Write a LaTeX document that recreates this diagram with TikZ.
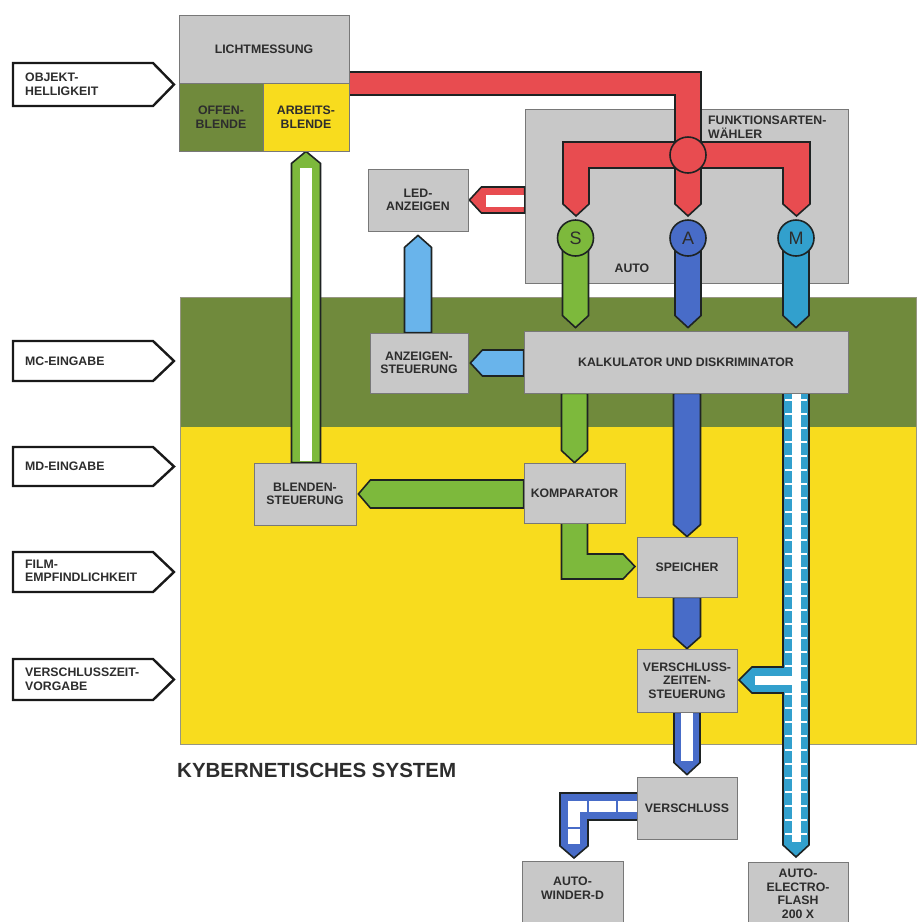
\documentclass[tikz,border=0pt]{standalone}
\usepackage{fontspec}
\setmainfont{Liberation Sans}
\usetikzlibrary{calc}
\pgfdeclarelayer{bg}
\pgfdeclarelayer{pipes}
\pgfsetlayers{bg,pipes,main}
\definecolor{boxgray}{RGB}{200,200,200}
\definecolor{boxedge}{RGB}{120,120,120}
\definecolor{txt}{RGB}{45,45,45}
\definecolor{mcgreen}{RGB}{112,138,60}
\definecolor{yel}{RGB}{248,220,30}
\definecolor{pred}{RGB}{232,76,80}
\definecolor{lgreen}{RGB}{125,185,60}
\definecolor{blueA}{RGB}{72,108,200}
\definecolor{cyanM}{RGB}{50,160,205}
\definecolor{lblue}{RGB}{105,180,235}
\definecolor{pipeedge}{RGB}{30,35,35}
\definecolor{sysedge}{RGB}{150,150,130}
\tikzset{
  lbl/.style={font=\fontsize{12.3pt}{13.5pt}\selectfont\bfseries, text=txt, align=center, inner sep=0pt},
  box/.style={lbl, draw=boxedge, line width=0.8pt, fill=boxgray},
  pipe/.style={draw=pipeedge, line width=1.6pt, line join=miter},
  inarrow/.style={draw=black!90, line width=2.4pt, fill=white},
  inlbl/.style={lbl, align=left, anchor=west},
  circ/.style={circle, draw=pipeedge, line width=1.6pt, minimum size=36pt, inner sep=0pt,
    font=\fontsize{18pt}{18pt}\selectfont, text=txt}
}
\newcommand\pipedown[4]{\draw[pipe,#1] ($(#2)+(-#4,0)$) -- ($(#3)+(-#4,-12)$) -- (#3) -- ($(#3)+(#4,-12)$) -- ($(#2)+(#4,0)$) -- cycle;}
\newcommand\pipeup[4]{\draw[pipe,#1] ($(#2)+(-#4,0)$) -- ($(#3)+(-#4,12)$) -- (#3) -- ($(#3)+(#4,12)$) -- ($(#2)+(#4,0)$) -- cycle;}
\newcommand\pipeleft[4]{\draw[pipe,#1] ($(#2)+(0,-#4)$) -- ($(#3)+(12,-#4)$) -- (#3) -- ($(#3)+(12,#4)$) -- ($(#2)+(0,#4)$) -- cycle;}
\newcommand\inarr[2]{\draw[inarrow] (13,#1) -- (153,#1) -- (174,{(#1+#2)/2}) -- (153,#2) -- (13,#2) -- cycle;}
\begin{document}
\begin{tikzpicture}[x=1pt,y=-1pt]
\useasboundingbox (0,0) rectangle (919,922);
\begin{pgfonlayer}{bg}
\fill[white] (0,0) rectangle (919,922);
\fill[mcgreen] (180,297) rectangle (916,427);
\fill[yel] (180,427) rectangle (916,744);
\draw[sysedge, line width=1pt] (180,297) rectangle (916,744);
\node[box, minimum width=323pt, minimum height=174pt] (funk) at (686.5,196) {};
\end{pgfonlayer}

% input arrows
\inarr{63}{106}
\node[inlbl] (objekt) at (25,84.5) {OBJEKT-\\HELLIGKEIT};
\inarr{341}{381}
\node[inlbl] (mc) at (25,361) {MC-EINGABE};
\inarr{447}{486}
\node[inlbl] (md) at (25,466.5) {MD-EINGABE};
\inarr{552}{592}
\node[inlbl] (film) at (25,571) {FILM-\\EMPFINDLICHKEIT};
\inarr{659}{700}
\node[inlbl] (vzv) at (25,679.5) {VERSCHLUSSZEIT-\\VORGABE};

% boxes
\node[box, minimum width=170pt, minimum height=68pt] (licht) at (264,49) {LICHTMESSUNG};
\node[box, fill=mcgreen, minimum width=84pt, minimum height=68pt] (offen) at (221,117) {OFFEN-\\BLENDE};
\node[box, fill=yel, minimum width=86pt, minimum height=68pt] (arbeits) at (306,117) {ARBEITS-\\BLENDE};
\node[lbl, align=left, anchor=west] (funkt) at (708,127) {FUNKTIONSARTEN-\\WÄHLER};
\node[lbl] (auto) at (632,268) {AUTO};
\node[box, minimum width=100pt, minimum height=62pt] (led) at (418,200) {LED-\\ANZEIGEN};
\node[box, minimum width=98pt, minimum height=60pt] (anz) at (419,363) {ANZEIGEN-\\STEUERUNG};
\node[box, minimum width=324pt, minimum height=62pt] (kalk) at (686,362) {KALKULATOR UND DISKRIMINATOR};
\node[box, minimum width=102pt, minimum height=62pt] (blend) at (305,494) {BLENDEN-\\STEUERUNG};
\node[box, minimum width=101pt, minimum height=60pt] (komp) at (574.5,493) {KOMPARATOR};
\node[box, minimum width=100pt, minimum height=60pt] (spei) at (687,567) {SPEICHER};
\node[box, minimum width=100pt, minimum height=63pt] (vz) at (687,680.5) {VERSCHLUSS-\\ZEITEN-\\STEUERUNG};
\node[box, minimum width=100pt, minimum height=62pt] (vers) at (687,808) {VERSCHLUSS};
\node[box, minimum width=101pt, minimum height=70pt] (winder) at (572.5,896) {};
\node[lbl] (windert) at (572.5,888) {AUTO-\\WINDER-D};
\node[box, minimum width=100pt, minimum height=70pt] (flash) at (798,897) {};
\node[lbl] (flasht) at (798,894) {AUTO-\\ELECTRO-\\FLASH\\200 X};
\node[anchor=west, inner sep=0pt, text=txt, font=\fontsize{20.5pt}{22pt}\selectfont\bfseries] (kyb) at (177,770) {KYBERNETISCHES SYSTEM};

% circles
\node[circ, fill=pred] (hub) at (688,155) {};
\node[circ, fill=lgreen] (cS) at (575.5,238) {S};
\node[circ, fill=blueA] (cA) at (688,238) {A};
\node[circ, fill=cyanM] (cM) at (796,238) {M};

% connector end points
\coordinate (rA) at (funk.west |- led.east);
\coordinate (rB) at ($(led.east)+(1,0)$);
\coordinate (sT) at ($(kalk.north -| cS)+(0,-3)$);
\coordinate (aT) at ($(kalk.north -| cA)+(0,-3)$);
\coordinate (mT) at ($(kalk.north -| cM)+(0,-3)$);
\coordinate (gT) at (arbeits.south);
\coordinate (gF) at (blend.north -| gT);
\coordinate (ledT) at ($(led.south)+(0,4)$);
\coordinate (anzT) at (anz.north -| ledT);
\coordinate (kaF) at (kalk.west |- anz.east);
\coordinate (kaT) at ($(anz.east)+(2,0)$);
\coordinate (kkF) at (kalk.south -| komp.north);
\coordinate (kbF) at (komp.west |- blend.east);
\coordinate (kbT) at ($(blend.east)+(2,0)$);
\coordinate (ksF) at (kalk.south -| spei.north);
\coordinate (vvT) at ($(vers.north)+(0,-2)$);

\begin{pgfonlayer}{pipes}
% red main pipe
\draw[pipe, fill=pred] (345,72) -- (701,72) -- (701,142) -- (810,142) -- (810,204) -- (796.5,216) -- (783,204) -- (783,168) -- (701,168) -- (701,204) -- (688,216) -- (675,204) -- (675,168) -- (589,168) -- (589,204) -- (576,216) -- (563,204) -- (563,142) -- (675,142) -- (675,95) -- (345,95) -- cycle;
% red to LED (hollow)
\pipeleft{fill=pred}{rA}{rB}{13}
\fill[white] (486,194.5) rectangle (524,206.5);
% S A M bars
\pipedown{fill=lgreen}{cS.center}{sT}{13}
\pipedown{fill=blueA}{cA.center}{aT}{13}
\pipedown{fill=cyanM}{cM.center}{mT}{13}
% green hollow up to Arbeitsblende
\pipeup{fill=lgreen}{gF}{gT}{14.5}
\fill[white] (300,168) rectangle (312,461);
% light blue
\pipeup{fill=lblue}{anzT}{ledT}{13.5}
\pipeleft{fill=lblue}{kaF}{kaT}{13}
% green
\pipedown{fill=lgreen}{kkF}{komp.north}{13}
\pipeleft{fill=lgreen}{kbF}{kbT}{14}
\draw[pipe, fill=lgreen] (561.5,520) -- (561.5,579) -- (623,579) -- (635,566.5) -- (623,554) -- (587.5,554) -- (587.5,520) -- cycle;
% blue
\pipedown{fill=blueA}{ksF}{spei.north}{13.5}
\pipedown{fill=blueA}{spei.south}{vz.north}{13.5}
\pipedown{fill=blueA}{vz.south}{vvT}{13}
\fill[white] (681,712) rectangle (693,761);
\draw[pipe, fill=blueA] (640,793) -- (560,793) -- (560,846) -- (574,858) -- (588,846) -- (588,820) -- (640,820) -- cycle;
\fill[white] (568,801) rectangle (637,812);
\fill[white] (568,801) rectangle (580,844);
\draw[blueA, line width=1.5pt] (588,801) -- (588,812) (617,801) -- (617,812) (568,828) -- (580,828);
% cyan M pipe with branch
\draw[pipe, fill=cyanM] (783,390) -- (783,667) -- (752,667) -- (739,680) -- (752,693) -- (783,693) -- (783,845) -- (796,857) -- (809,845) -- (809,390) -- cycle;
\fill[white] (792,393) rectangle (801,842);
\fill[white] (755,676) rectangle (796,685);
\foreach \t in {0,...,31} \draw[white, line width=1.1pt] (785,{400+14*\t}) -- (807,{400+14*\t});
\end{pgfonlayer}
\end{tikzpicture}
\end{document}
